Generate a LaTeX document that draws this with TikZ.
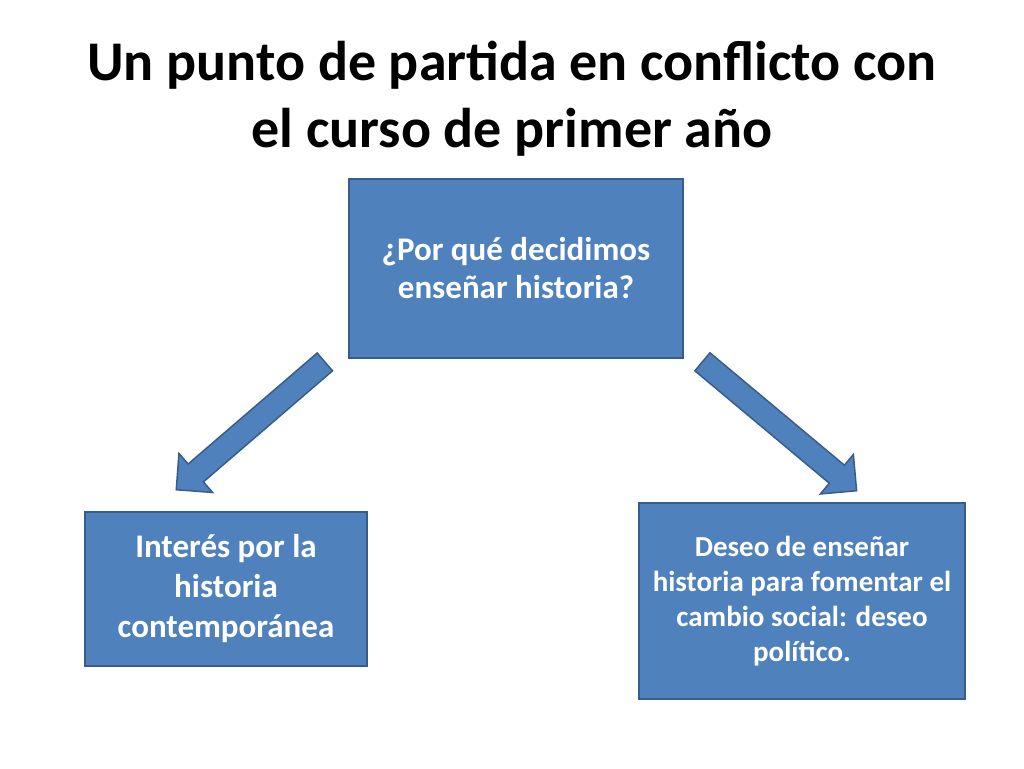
\documentclass[tikz,border=0pt]{standalone}
\usepackage{fontspec}
\setmainfont{Carlito}
\usetikzlibrary{shapes.arrows,positioning}
\definecolor{boxfill}{HTML}{4F81BD}
\definecolor{boxline}{HTML}{385D8A}
\begin{document}
\begin{tikzpicture}[x=1pt,y=-1pt]
\tikzset{
  box/.style={draw=boxline, line width=1.5pt, fill=boxfill, align=center,
    text=white, inner sep=4pt},
  fatarrow/.style={single arrow, draw=boxline, line width=1.5pt, fill=boxfill,
    inner xsep=0pt, inner ysep=11pt, single arrow head extend=14pt,
    single arrow head indent=0pt},
}
\fill[white] (0,0) rectangle (1024,768);
\useasboundingbox (0,0) rectangle (1024,768);

\node[align=center, font=\bfseries\fontsize{56}{67}\selectfont] (title) at (512,99)
  {Un punto de partida en conflicto con\\el curso de primer año};

\node[box, minimum width=334pt, minimum height=179pt, font=\bfseries\fontsize{33}{38}\selectfont]
  (why) at (516,268.5) {¿Por qué decidimos\\enseñar historia?};
\node[box, minimum width=282pt, minimum height=154pt, font=\bfseries\fontsize{33}{40}\selectfont]
  (interest) at (226,589) {Interés por la\\historia\\contemporánea};
\node[box, minimum width=326pt, minimum height=196pt, font=\bfseries\fontsize{29}{35}\selectfont]
  (desire) at (802,601) {Deseo de enseñar\\historia para fomentar el\\cambio social: deseo\\político.};

\node[fatarrow, minimum height=196pt, rotate=220.7] (leftarrow) at (255,422) {};
\node[fatarrow, minimum height=201pt, rotate=-39.9] (rightarrow) at (775,422.5) {};
\end{tikzpicture}
\end{document}
